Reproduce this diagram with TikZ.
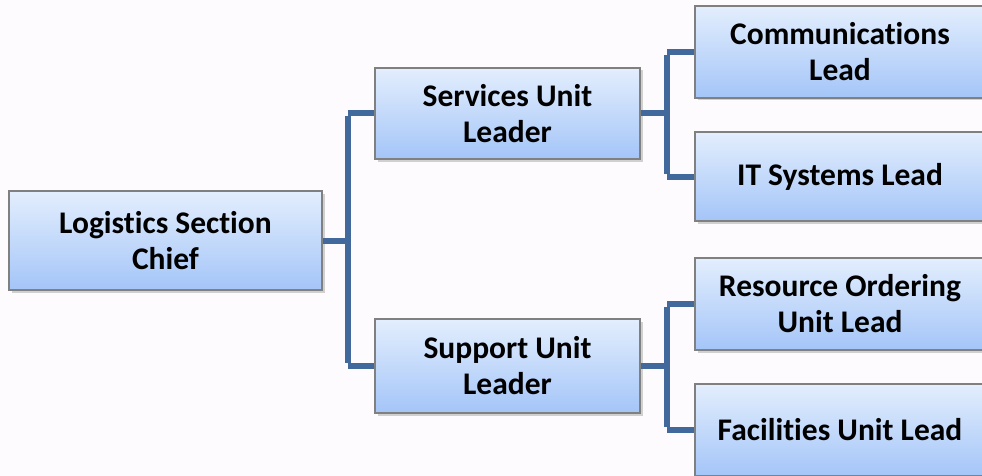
\documentclass[tikz,border=0pt]{standalone}
\usepackage{fontspec}
\setmainfont[Ligatures=NoCommon]{Carlito}
\usetikzlibrary{shadows}
\definecolor{bgc}{HTML}{FDFBFD}
\definecolor{topc}{HTML}{E3EEFD}
\definecolor{botc}{HTML}{A4C5F8}
\definecolor{edgec}{HTML}{808080}
\definecolor{linec}{HTML}{41699B}
\tikzset{
  box/.style={draw=edgec, line width=1.3pt, top color=topc, bottom color=botc,
    align=center, font=\fontsize{31.5}{36}\selectfont\bfseries, text=black,
    drop shadow={opacity=0.35, shadow xshift=2.5pt, shadow yshift=-2.5pt},
    inner sep=0pt},
  conn/.style={draw=linec, line width=6pt, line join=miter}
}
\begin{document}
\begin{tikzpicture}[x=1pt,y=-1pt]
\fill[bgc] (0,0) rectangle (982,476);
\useasboundingbox (0,0) rectangle (982,476);
\clip (0,0) rectangle (982,476);
% boxes
\node[box, minimum width=313pt, minimum height=99pt] (L) at (165.5,240.5) {Logistics Section\\Chief};
\node[box, minimum width=265pt, minimum height=91pt] (S1) at (507.5,113.5) {Services Unit\\Leader};
\node[box, minimum width=265pt, minimum height=94pt] (S2) at (507.5,366) {Support Unit\\Leader};
\node[box, minimum width=290pt, minimum height=92pt] (C1) at (840,52) {Communications\\Lead};
\node[box, minimum width=290pt, minimum height=89pt] (C2) at (840,176.5) {IT Systems Lead};
\node[box, minimum width=290pt, minimum height=92pt] (C3) at (840,304) {Resource Ordering\\Unit Lead};
\node[box, minimum width=290pt, minimum height=92pt] (C4) at (840,430) {Facilities Unit Lead};
% connectors
\coordinate (J1) at (347.5,240.5);
\coordinate (J2) at (667,113.5);
\coordinate (J3) at (667,366);
\draw[conn] (L.east) -- (J1);
\draw[conn] (J1 |- S1.west) -- (S1.west);
\draw[conn] (J1 |- S2.west) -- (S2.west);
\draw[conn] ([yshift=-3pt]J1 |- S1.west) -- ([yshift=3pt]J1 |- S2.west);
\draw[conn] (S1.east) -- (J2);
\draw[conn] (J2 |- C1.west) -- (C1.west);
\draw[conn] (J2 |- C2.west) -- (C2.west);
\draw[conn] ([yshift=-3pt]J2 |- C1.west) -- ([yshift=3pt]J2 |- C2.west);
\draw[conn] (S2.east) -- (J3);
\draw[conn] (J3 |- C3.west) -- (C3.west);
\draw[conn] (J3 |- C4.west) -- (C4.west);
\draw[conn] ([yshift=-3pt]J3 |- C3.west) -- ([yshift=3pt]J3 |- C4.west);
\end{tikzpicture}
\end{document}
